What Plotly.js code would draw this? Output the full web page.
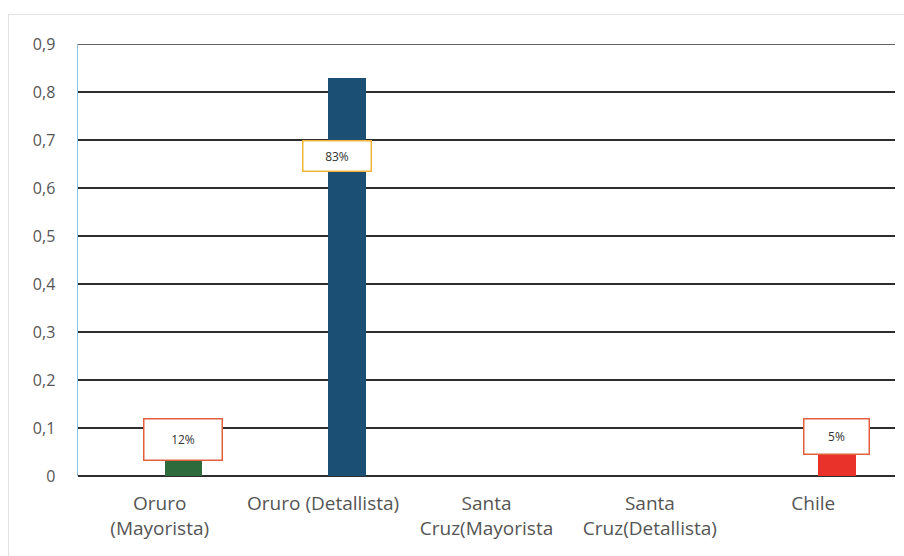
<!DOCTYPE html>
<html>
<head>
<meta charset="utf-8">
<script src="https://cdn.plot.ly/plotly-3.0.1.min.js"></script>
<style>
html,body{margin:0;padding:0;background:#fff;}
#wrap{position:relative;width:904px;height:556px;overflow:hidden;}
#frame{position:absolute;left:8px;top:14px;width:1000px;height:1000px;border-left:1px solid #e2e2e2;border-top:1px solid #e2e2e2;pointer-events:none;}
#chart{position:absolute;left:0;top:0;width:904px;height:556px;}
</style>
</head>
<body>
<div id="wrap">
<div id="chart"></div>
<div id="frame"></div>
</div>
<script>
const categories = ["Oruro (Mayorista)", "Oruro (Detallista)", "Santa Cruz(Mayorista", "Santa Cruz(Detallista)", "Chile"];
const tickLabels = ["Oruro<br>(Mayorista)", "Oruro (Detallista)", "Santa<br>Cruz(Mayorista", "Santa<br>Cruz(Detallista)", "Chile"];
const values = [0.12, 0.83, 0, 0, 0.05];
const valueLabels = ["12%", "83%", "", "", "5%"];
const barColors = ["#2d6a3c", "#1c4f74", "#1c4f74", "#1c4f74", "#e8322a"];
const labelBorders = ["#e0603f", "#f0b43a", "#e0603f", "#e0603f", "#e0603f"];

const xIdx = categories.map((c, i) => i);
const FONT = "Open Sans, Liberation Sans, Arial, sans-serif";

const trace = {
  type: "bar",
  x: xIdx,
  y: values,
  width: 0.23,
  offset: 0.03,
  marker: {color: barColors, line: {width: 0}},
  hoverinfo: "skip"
};

// label box placement (relative to each bar)
const labelTop = [0.12, 0.70, 0, 0, 0.12];
const labelShift = [0, -10, 0, 0, 0];
const boxW = [79, 69, 66, 66, 66];
const boxH = [42, 31, 36, 36, 36];
const annotations = [];
values.forEach((v, i) => {
  if (!valueLabels[i]) return;
  annotations.push({
    x: i + 0.145, xref: "x",
    y: labelTop[i], yref: "y",
    xshift: labelShift[i],
    yanchor: "top", xanchor: "center",
    text: valueLabels[i],
    showarrow: false,
    font: {family: FONT, size: 12, color: "#333"},
    bgcolor: "#ffffff",
    bordercolor: labelBorders[i],
    borderwidth: 1.5,
    width: boxW[i] - 4,
    height: boxH[i] - 4,
    align: "center",
    valign: "middle"
  });
});

const layout = {
  width: 904, height: 556,
  margin: {l: 78, r: 9, t: 44, b: 80},
  paper_bgcolor: "rgba(0,0,0,0)",
  plot_bgcolor: "rgba(0,0,0,0)",
  separators: ",.",
  showlegend: false,
  xaxis: {
    range: [-0.5, 4.5],
    tickmode: "array",
    tickvals: xIdx,
    ticktext: tickLabels,
    showgrid: false,
    zeroline: false,
    showline: false,
    ticks: "",
    tickfont: {family: FONT, size: 19, color: "#555"},
    ticklabelstandoff: 14
  },
  yaxis: {
    range: [0, 0.9],
    dtick: 0.1,
    tick0: 0,
    showgrid: true,
    gridcolor: "#2e2e2e",
    gridwidth: 1.5,
    zeroline: true,
    zerolinecolor: "#2e2e2e",
    zerolinewidth: 1.5,
    showline: true,
    linecolor: "#8fbfe0",
    linewidth: 1.5,
    ticks: "",
    tickfont: {family: FONT, size: 16, color: "#555"},
    ticklabelstandoff: 18
  },
  shapes: [{
    type: "line", xref: "paper", yref: "y",
    x0: 0, x1: 1, y0: 0.9, y1: 0.9,
    line: {color: "#2e2e2e", width: 1.5}
  }],
  annotations: annotations,
  bargap: 0
};

Plotly.newPlot("chart", [trace], layout, {displayModeBar: false, staticPlot: true});
</script>
</body>
</html>
